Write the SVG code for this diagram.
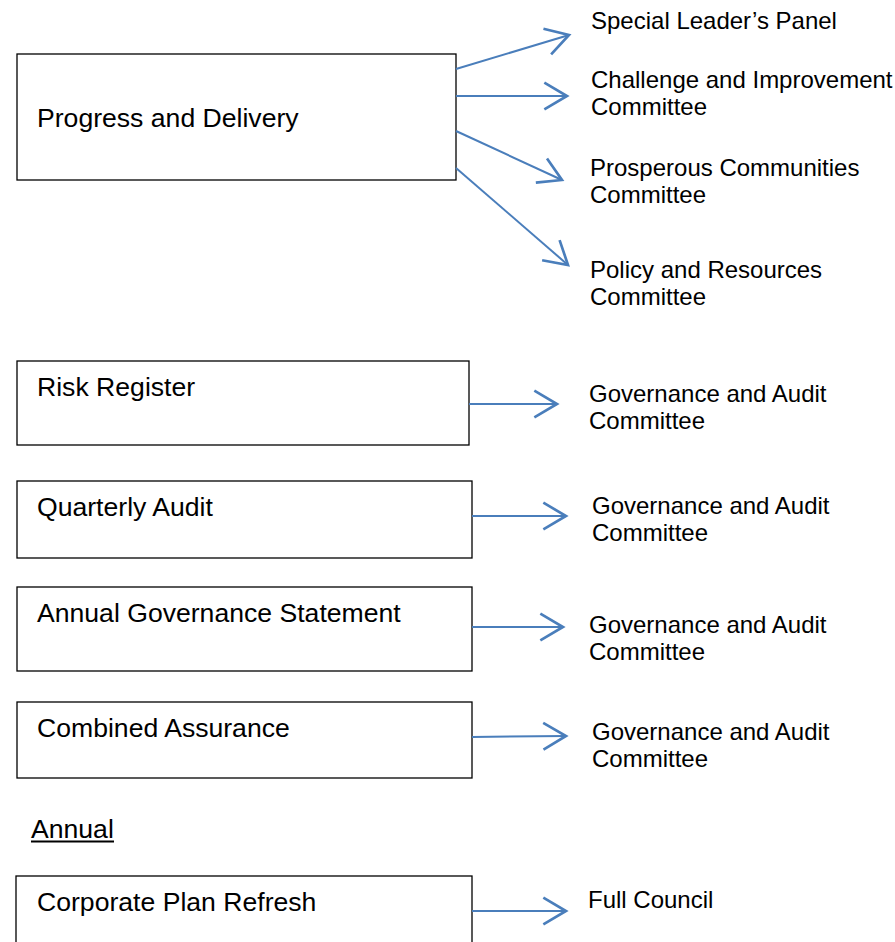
<svg xmlns="http://www.w3.org/2000/svg" width="895" height="942" viewBox="0 0 895 942">
<defs>
<style>
.box{fill:#fff;stroke:#000;stroke-width:1.3}
.lt{font-family:"Liberation Sans",Arial,sans-serif;font-size:26.6px;fill:#000}
.rt{font-family:"Liberation Sans",Arial,sans-serif;font-size:24px;fill:#000}
.c{stroke:#4a7ebb;stroke-width:2;fill:none}
</style>
<marker id="ah" markerUnits="userSpaceOnUse" markerWidth="40" markerHeight="40" viewBox="-20 -15 25 30" refX="0" refY="0" orient="auto" overflow="visible">
<path d="M-17,-10 L0,0 L-17,10" fill="none" stroke="#4a7ebb" stroke-width="2"/>
</marker>
</defs>
<rect width="895" height="942" fill="#fff"/>
<g id="n-progress"><rect class="box" x="17" y="54" width="439" height="126"/><text class="lt" x="37" y="127">Progress and Delivery</text></g>
<g id="n-risk"><rect class="box" x="17" y="361" width="452" height="84"/><text class="lt" x="37" y="396">Risk Register</text></g>
<g id="n-quarterly"><rect class="box" x="17" y="481" width="455" height="77"/><text class="lt" x="37" y="516">Quarterly Audit</text></g>
<g id="n-ags"><rect class="box" x="17" y="587" width="455" height="84"/><text class="lt" x="37" y="622">Annual Governance Statement</text></g>
<g id="n-combined"><rect class="box" x="17" y="702" width="455" height="76"/><text class="lt" x="37" y="737">Combined Assurance</text></g>
<g id="n-annual"><text class="lt" x="31" y="838">Annual</text><line x1="31" y1="841.5" x2="114" y2="841.5" stroke="#000" stroke-width="2"/></g>
<g id="n-corporate"><rect class="box" x="16" y="876" width="456" height="80"/><text class="lt" x="37" y="911">Corporate Plan Refresh</text></g>
<g id="t-slp"><text class="rt" x="591" y="29">Special Leader’s Panel</text></g>
<g id="t-cic"><text class="rt" x="591" y="88">Challenge and Improvement</text><text class="rt" x="591" y="115">Committee</text></g>
<g id="t-pcc"><text class="rt" x="590" y="176">Prosperous Communities</text><text class="rt" x="590" y="203">Committee</text></g>
<g id="t-prc"><text class="rt" x="590" y="278">Policy and Resources</text><text class="rt" x="590" y="305">Committee</text></g>
<g id="t-gac1"><text class="rt" x="589" y="402">Governance and Audit</text><text class="rt" x="589" y="429">Committee</text></g>
<g id="t-gac2"><text class="rt" x="592" y="514">Governance and Audit</text><text class="rt" x="592" y="541">Committee</text></g>
<g id="t-gac3"><text class="rt" x="589" y="633">Governance and Audit</text><text class="rt" x="589" y="660">Committee</text></g>
<g id="t-gac4"><text class="rt" x="592" y="740">Governance and Audit</text><text class="rt" x="592" y="767">Committee</text></g>
<g id="t-fc"><text class="rt" x="588" y="908">Full Council</text></g>
<g id="connectors">
<line class="c" x1="456" y1="69" x2="569" y2="35" marker-end="url(#ah)"/>
<line class="c" x1="456" y1="96" x2="567" y2="96" marker-end="url(#ah)"/>
<line class="c" x1="456" y1="131" x2="562" y2="180" marker-end="url(#ah)"/>
<line class="c" x1="456" y1="168" x2="568" y2="265" marker-end="url(#ah)"/>
<line class="c" x1="469" y1="404" x2="557" y2="404" marker-end="url(#ah)"/>
<line class="c" x1="472" y1="516" x2="566" y2="516" marker-end="url(#ah)"/>
<line class="c" x1="472" y1="627" x2="563" y2="627" marker-end="url(#ah)"/>
<line class="c" x1="472" y1="737" x2="566" y2="736" marker-end="url(#ah)"/>
<line class="c" x1="472" y1="911" x2="566" y2="911" marker-end="url(#ah)"/>
</g>
</svg>
